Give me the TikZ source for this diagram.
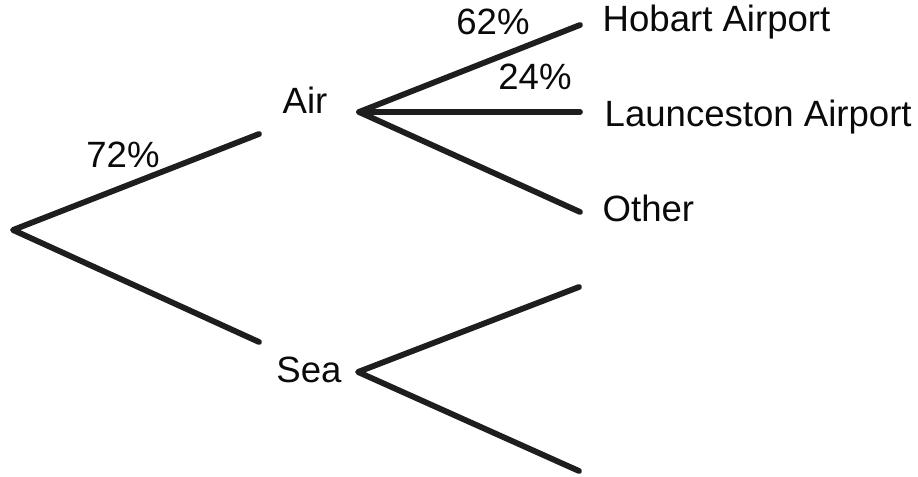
\documentclass[tikz,border=0pt]{standalone}
\usepackage{fontspec}
\setmainfont{Liberation Sans}
\begin{document}
\begin{tikzpicture}[x=0.01cm,y=-0.01cm,
  branch/.style={line width=0.058cm,line cap=round,line join=round,draw={rgb,255:red,30;green,30;blue,30}},
  lbl/.style={inner sep=0pt,font=\fontsize{10.4pt}{12pt}\selectfont,text={rgb,255:red,10;green,10;blue,10}}]
\useasboundingbox (0,0) rectangle (918,477);
% branch points
\coordinate (root) at (13,230);
\coordinate (airEnd) at (259,134);
\coordinate (seaEnd) at (259,342);
\coordinate (airO) at (359,112);
\coordinate (seaO) at (358,372);
\coordinate (hobE) at (580,25);
\coordinate (lauE) at (580,112);
\coordinate (othE) at (580,212);
\coordinate (s1E) at (579,287);
\coordinate (s2E) at (579,471);
% labels
\node[lbl] (air) at (305,100) {Air};
\node[lbl] (sea) at (309,370) {Sea};
\node[lbl,anchor=west] (hob) at (602,22) {Hobart Airport};
\node[lbl,anchor=west] (lau) at (604,117) {Launceston Airport};
\node[lbl,anchor=west] (oth) at (602,208) {Other};
\node[lbl] (p72) at (123,155) {72\%};
\node[lbl] (p62) at (493,22) {62\%};
\node[lbl] (p24) at (535,77) {24\%};
% branches
\draw[branch] (airEnd) -- (root) -- (seaEnd);
\draw[branch] (hobE) -- (airO) -- (othE);
\draw[branch] (airO) -- (lauE);
\draw[branch] (s1E) -- (seaO) -- (s2E);
\end{tikzpicture}
\end{document}
